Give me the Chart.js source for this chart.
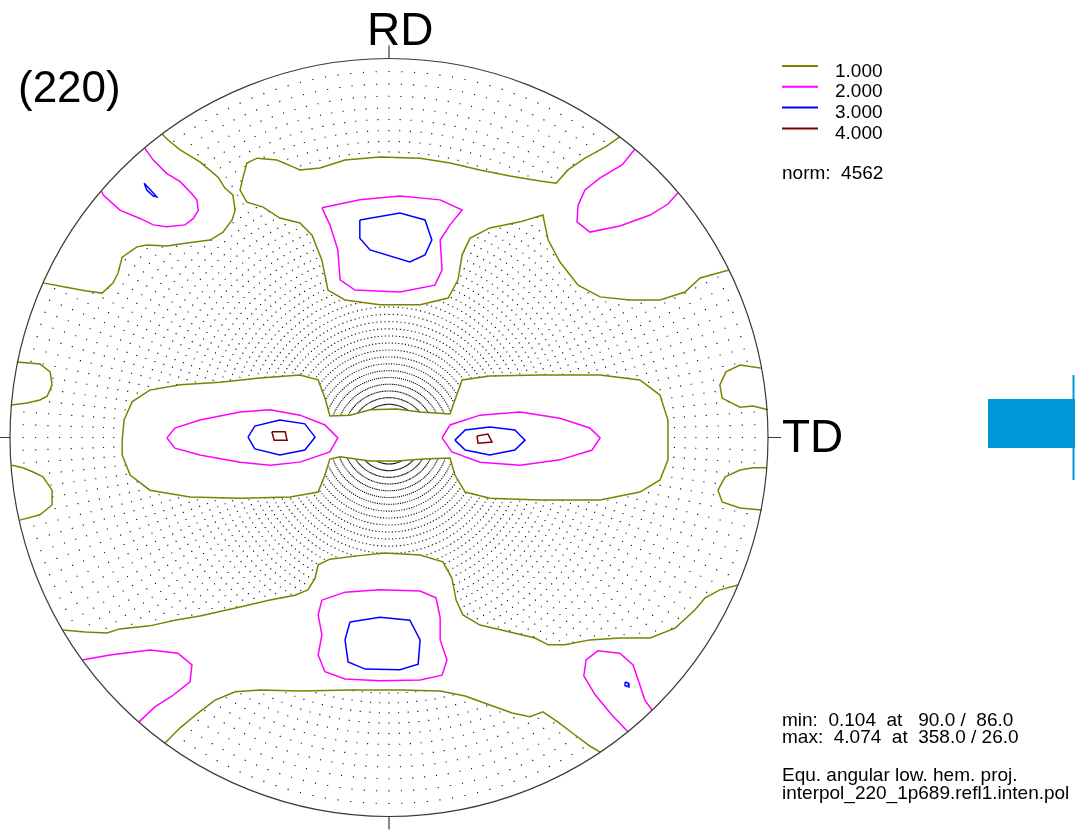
<!DOCTYPE html>
<html><head><meta charset="utf-8">
<script src="https://cdn.jsdelivr.net/npm/chart.js@4.4.1/dist/chart.umd.min.js"></script>
<style>html,body{margin:0;padding:0;background:#fff;overflow:hidden}canvas{display:block}</style>
</head><body>
<canvas id="pf" width="1075" height="830"></canvas>
<script>
// Contour levels of the (220) pole figure and their line colours
const levels = ['1.000', '2.000', '3.000', '4.000'];
const levelColors = ['#808000', '#ff00ff', '#0000ff', '#800000'];

// Contour paths in projection units (outer circle radius = 100, +y = RD, +x = TD)
// ---- level 1.000
const l1_topLeft = [[-59.9,80.1],[-58.3,78.5],[-55.1,75.9],[-49.9,72.7],[-45.1,68.7],[-43.3,65.8],[-41.2,64.0],[-40.6,60.0],[-41.4,57.4],[-43.8,54.2],[-47.2,52.1],[-53.3,51.3],[-58.6,50.5],[-63.9,50.8],[-66.5,50.3],[-70.4,47.6],[-71.5,43.4],[-72.8,40.8],[-75.7,38.1],[-80.2,38.7],[-85.5,39.7],[-91.3,40.8]];
const l1_topRight = [[60.9,79.3],[57.0,76.6],[51.7,73.7],[47.2,70.6],[44.1,67.1],[39.8,67.7],[31.9,69.0],[24.0,70.6],[16.1,72.4],[8.2,73.7],[-2.4,74.0],[-11.6,73.2],[-18.2,71.1],[-23.5,70.6],[-25.3,71.4],[-29.6,73.2],[-34.8,73.7],[-37.5,72.4],[-38.5,68.7],[-39.3,65.3],[-37.5,62.1],[-33.2,60.8],[-28.8,57.9],[-23.5,56.6],[-20.3,53.4],[-17.7,46.8],[-16.1,38.9],[-11.6,36.3],[-2.4,35.0],[8.2,35.0],[15.6,36.8],[18.2,41.6],[19.3,48.2],[21.4,52.6],[26.6,55.3],[34.6,56.9],[40.6,58.7],[42.0,52.1],[45.1,46.3],[49.9,40.2],[55.7,37.1],[63.6,36.3],[71.5,36.3],[78.1,38.4],[82.1,42.1],[89.7,44.2]];
const l1_band = [[-70.4,-0.7],[-69.9,4.6],[-67.8,9.4],[-63.1,12.5],[-55.1,13.9],[-44.6,14.6],[-34.0,15.7],[-23.5,16.5],[-18.7,15.2],[-16.9,10.4],[-15.6,5.7],[-10.3,5.9],[-5.0,7.3],[2.1,7.5],[8.2,6.7],[16.1,6.2],[17.4,9.9],[19.3,15.2],[26.6,16.2],[39.8,16.5],[55.7,16.5],[66.2,15.2],[71.5,11.2],[73.6,4.6],[73.6,-5.9],[71.5,-11.2],[66.2,-14.4],[55.7,-16.5],[39.8,-16.5],[26.6,-16.0],[20.1,-14.4],[17.4,-9.9],[16.1,-5.4],[9.0,-5.7],[2.1,-6.2],[-5.0,-6.2],[-12.9,-5.1],[-15.6,-5.7],[-16.9,-9.9],[-18.7,-14.4],[-26.1,-15.7],[-39.3,-16.0],[-52.5,-15.7],[-63.1,-13.9],[-68.3,-9.9],[-70.4,-4.6]];
const l1_leftUpper = [[-98.2,19.9],[-92.1,19.4],[-89.4,17.3],[-88.9,13.9],[-90.2,10.9],[-92.1,9.9],[-95.5,9.1],[-99.7,8.6]];
const l1_leftLower = [[-99.5,-7.3],[-96.6,-8.0],[-93.9,-9.1],[-91.3,-10.4],[-88.9,-13.9],[-88.9,-17.8],[-92.1,-20.4],[-97.4,-21.8]];
const l1_rightUpper = [[98.4,18.3],[92.6,19.1],[88.9,17.3],[87.3,13.9],[87.9,10.4],[92.6,8.0],[96.0,8.3],[100.0,7.3]];
const l1_rightLower = [[99.7,-8.0],[96.0,-8.0],[92.6,-8.6],[88.7,-10.4],[86.8,-13.9],[87.9,-17.0],[92.6,-18.6],[98.4,-19.1]];
const l1_bottomUpper = [[-86.0,-50.8],[-80.2,-51.3],[-74.4,-51.6],[-71.0,-50.5],[-63.1,-49.7],[-56.5,-48.2],[-49.9,-47.1],[-39.3,-44.7],[-31.4,-42.9],[-24.8,-41.6],[-21.4,-40.2],[-19.5,-37.1],[-18.7,-33.6],[-15.6,-32.1],[-9.0,-31.3],[-1.1,-30.5],[8.2,-31.0],[14.2,-32.8],[16.6,-37.1],[17.7,-42.9],[19.5,-46.8],[24.0,-49.5],[31.9,-51.3],[38.5,-52.9],[42.0,-54.7],[46.4,-54.7],[53.0,-53.4],[60.9,-52.9],[68.9,-52.9],[75.5,-50.3],[80.7,-45.5],[83.4,-42.3],[87.3,-40.2],[92.1,-38.9]];
const l1_bottomLower = [[-59.1,-80.6],[-55.1,-76.6],[-50.4,-72.7],[-45.9,-69.3],[-40.6,-67.1],[-34.0,-66.6],[-23.5,-66.9],[-10.3,-66.6],[2.9,-66.6],[13.5,-66.9],[20.1,-68.2],[26.6,-70.6],[32.5,-72.7],[37.2,-73.7],[40.6,-72.4],[44.6,-75.1],[49.1,-78.5],[53.0,-81.4],[55.7,-83.0]];
// ---- level 2.000
const l2_topLeft = [[-64.4,76.3],[-62.2,73.2],[-58.7,69.7],[-55.1,67.5],[-52.1,64.4],[-50.7,62.7],[-50.3,60.0],[-51.6,57.8],[-53.8,56.1],[-58.7,55.6],[-62.2,56.1],[-65.7,57.8],[-71.0,60.0],[-75.4,64.0],[-75.8,64.9]];
const l2_topRight = [[64.9,76.1],[61.5,71.9],[55.7,68.5],[51.7,65.3],[49.9,61.3],[49.6,56.9],[53.0,54.2],[60.9,55.8],[68.9,58.7],[73.6,61.6],[76.2,64.5]];
const l2_topBlob = [[-17.7,60.6],[-7.7,62.7],[2.9,63.7],[13.5,62.7],[19.3,60.0],[16.1,56.1],[13.5,52.1],[14.0,44.2],[12.1,40.2],[2.9,38.4],[-9.0,38.9],[-12.9,41.6],[-13.5,49.5],[-15.6,56.1]];
const l2_bandLeft = [[-58.6,-0.1],[-56.5,2.5],[-49.9,4.6],[-39.3,6.7],[-31.4,7.3],[-23.5,5.9],[-16.9,3.3],[-13.5,-0.1],[-15.6,-3.8],[-23.5,-6.5],[-31.4,-7.3],[-39.3,-6.5],[-49.9,-4.6],[-56.5,-2.8]];
const l2_bandRight = [[14.0,-0.1],[16.1,3.3],[24.0,5.9],[34.6,6.7],[45.1,5.1],[53.0,2.5],[55.7,-0.1],[53.6,-3.3],[45.1,-5.9],[34.6,-7.3],[24.0,-6.5],[16.6,-3.8]];
const l2_bottomBlob = [[-17.7,-42.9],[-11.6,-40.8],[-2.4,-40.2],[8.2,-40.5],[12.4,-42.3],[13.5,-47.6],[13.5,-53.4],[15.3,-58.7],[14.0,-62.7],[8.2,-64.0],[-2.4,-64.2],[-11.6,-63.7],[-16.9,-61.8],[-18.7,-57.4],[-17.7,-52.1],[-18.7,-46.8]];
const l2_bottomLeft = [[-81.0,-58.7],[-73.6,-57.4],[-63.1,-56.1],[-55.7,-56.9],[-52.0,-60.0],[-52.5,-64.5],[-57.2,-68.2],[-61.7,-71.0],[-66.0,-75.1]];
const l2_bottomRight = [[63.1,-77.7],[58.8,-73.2],[54.4,-67.9],[51.4,-62.9],[52.0,-58.7],[55.1,-56.3],[60.9,-56.9],[64.4,-60.0],[66.2,-65.3],[67.5,-69.3],[69.4,-71.9]];
// ---- level 3.000
const l3_topLeft = [[-64.6,67.1],[-63.1,65.5],[-61.3,63.5],[-62.2,63.7],[-63.9,65.3]];
const l3_topBlob = [[-7.7,57.4],[2.9,59.2],[9.5,57.4],[11.3,52.1],[9.5,48.2],[5.5,46.3],[-5.0,49.5],[-7.7,52.6]];
const l3_bandLeft = [[-37.2,0.1],[-35.4,3.0],[-28.8,4.6],[-22.2,3.6],[-19.5,0.1],[-22.2,-3.3],[-28.8,-4.6],[-35.4,-3.0]];
const l3_bandRight = [[17.4,-0.7],[20.1,2.0],[26.6,2.8],[33.2,2.0],[35.9,-0.7],[33.2,-3.3],[26.6,-4.6],[20.1,-3.3]];
const l3_bottomBlob = [[-10.3,-48.7],[-2.4,-47.4],[5.5,-48.2],[8.2,-53.4],[7.7,-59.8],[2.9,-61.3],[-6.3,-61.1],[-10.8,-59.2],[-11.6,-53.4]];
const l3_bottomRight = [[62.3,-64.5],[63.1,-64.8],[63.3,-65.8],[62.5,-65.5]];
// ---- level 4.000
const l4_left = [[-30.9,1.5],[-27.4,1.5],[-26.9,-0.7],[-30.3,-0.7]];
const l4_right = [[23.2,0.4],[26.1,0.9],[27.2,-1.2],[23.5,-1.5]];

// [path, level index, closed?]  open paths start and end on the outer circle
const contours = [
  [l1_topLeft, 0, false], [l1_topRight, 0, false], [l1_band, 0, true],
  [l1_leftUpper, 0, false], [l1_leftLower, 0, false], [l1_rightUpper, 0, false], [l1_rightLower, 0, false],
  [l1_bottomUpper, 0, false], [l1_bottomLower, 0, false],
  [l2_topLeft, 1, false], [l2_topRight, 1, false], [l2_topBlob, 1, true], [l2_bandLeft, 1, true], [l2_bandRight, 1, true],
  [l2_bottomBlob, 1, true], [l2_bottomLeft, 1, false], [l2_bottomRight, 1, false],
  [l3_topLeft, 2, true], [l3_topBlob, 2, true], [l3_bandLeft, 2, true], [l3_bandRight, 2, true],
  [l3_bottomBlob, 2, true], [l3_bottomRight, 2, true],
  [l4_left, 3, true], [l4_right, 3, true]
];

// Sampling grid of the pole figure (polar angle chi, azimuth phi, degrees)
const gridChiStep = 2, gridChiMax = 88, gridPhiStep = 2;

// Summary texts
const title = '(220)';
const normText = 'norm:  4562';
const minText = 'min:  0.104  at   90.0 /  86.0';
const maxText = 'max:  4.074  at  358.0 / 26.0';
const projText = 'Equ. angular low. hem. proj.';
const fileText = 'interpol_220_1p689.refl1.inten.pol';

// ---- grid points lying below the lowest level get a dot (even-odd rule over level-1 regions)
function closeOnCircle(path) {
  const last = path[path.length - 1];
  const a0 = Math.atan2(last[1], last[0]);
  let d = Math.atan2(path[0][1], path[0][0]) - a0;
  while (d > Math.PI) d -= 2 * Math.PI;
  while (d < -Math.PI) d += 2 * Math.PI;
  const out = path.slice();
  for (let i = 0; i <= 24; i++) {
    const a = a0 + d * i / 24;
    out.push([110 * Math.cos(a), 110 * Math.sin(a)]);
  }
  return out;
}
const lowRegions = contours.filter(c => c[1] === 0).map(c => c[2] ? c[0] : closeOnCircle(c[0]));
function inside(poly, x, y) {
  let c = false;
  for (let i = 0, j = poly.length - 1; i < poly.length; j = i++) {
    const xi = poly[i][0], yi = poly[i][1], xj = poly[j][0], yj = poly[j][1];
    if (((yi > y) !== (yj > y)) && (x < (xj - xi) * (y - yi) / (yj - yi) + xi)) c = !c;
  }
  return c;
}
const gridDots = [];
for (let chi = gridChiStep; chi <= gridChiMax; chi += gridChiStep) {
  const rho = 100 * Math.tan(chi * Math.PI / 360);
  for (let phi = 0; phi < 360; phi += gridPhiStep) {
    const x = rho * Math.sin(phi * Math.PI / 180), y = rho * Math.cos(phi * Math.PI / 180);
    const n = lowRegions.reduce((k, p) => k + (inside(p, x, y) ? 1 : 0), 0);
    if (n % 2 === 0) gridDots.push({x, y});
  }
}

const datasets = [{
  data: gridDots, showLine: false, pointStyle: 'rect', pointRadius: 0.8,
  backgroundColor: '#111', borderWidth: 0, clip: false, order: 5
}];
contours.forEach(([path, lv, closed]) => {
  const pts = path.map(([x, y]) => ({x, y}));
  if (closed) pts.push({x: path[0][0], y: path[0][1]});
  datasets.push({
    data: pts, showLine: true, pointRadius: 0, borderColor: levelColors[lv],
    borderWidth: 1.5, fill: false, tension: 0, clip: false, order: 1
  });
});

const FONT = '"Liberation Sans", Arial, sans-serif';
const framePlugin = {
  id: 'frame',
  afterDraw(chart) {
    const c = chart.ctx, xs = chart.scales.x, ys = chart.scales.y;
    const cx = xs.getPixelForValue(0), cy = ys.getPixelForValue(0);
    const r = xs.getPixelForValue(100) - cx;
    c.save();
    // outer circle and axis ticks
    c.strokeStyle = '#3a3a3a'; c.lineWidth = 1.2;
    c.beginPath(); c.arc(cx, cy, r, 0, 2 * Math.PI); c.stroke();
    const t = 13;
    c.beginPath();
    c.moveTo(cx, cy - r); c.lineTo(cx, cy - r - t);
    c.moveTo(cx, cy + r); c.lineTo(cx, cy + r + t);
    c.moveTo(cx - r, cy); c.lineTo(cx - r - t, cy);
    c.moveTo(cx + r, cy); c.lineTo(cx + r + t, cy);
    c.stroke();
    c.fillStyle = '#000'; c.textBaseline = 'alphabetic';
    c.font = '46px ' + FONT;
    c.fillText('RD', cx - 22, cy - r - 14);
    c.fillText('TD', cx + r + 14, cy + 14);
    c.font = '44px ' + FONT;
    c.fillText(title, 18, 102);
    // level legend
    c.font = '19px ' + FONT;
    levels.forEach((lv, i) => {
      const y = 66 + i * 20.8;
      c.strokeStyle = levelColors[i]; c.lineWidth = 2;
      c.beginPath(); c.moveTo(782, y); c.lineTo(818, y); c.stroke();
      c.fillText(lv, 835, y + 10.5);
    });
    c.fillText(normText, 782, 179);
    c.fillText(minText, 782, 726);
    c.fillText(maxText, 782, 743);
    c.fillText(projText, 782, 781);
    c.fillText(fileText, 782, 799);
    // colour-bar stub at the right border
    c.fillStyle = '#0097d7';
    c.fillRect(988, 399, 87, 49);
    c.fillRect(1072.5, 375, 2, 105);
    c.restore();
  }
};

new Chart(document.getElementById('pf'), {
  type: 'scatter',
  data: { datasets },
  options: {
    responsive: false, animation: false, events: [],
    layout: { padding: { left: 10, right: 307, top: 58.5, bottom: 13.5 } },
    scales: {
      x: { type: 'linear', min: -100, max: 100, display: false },
      y: { type: 'linear', min: -100, max: 100, display: false }
    },
    plugins: { legend: { display: false }, tooltip: { enabled: false } }
  },
  plugins: [framePlugin]
});
</script>
</body></html>
